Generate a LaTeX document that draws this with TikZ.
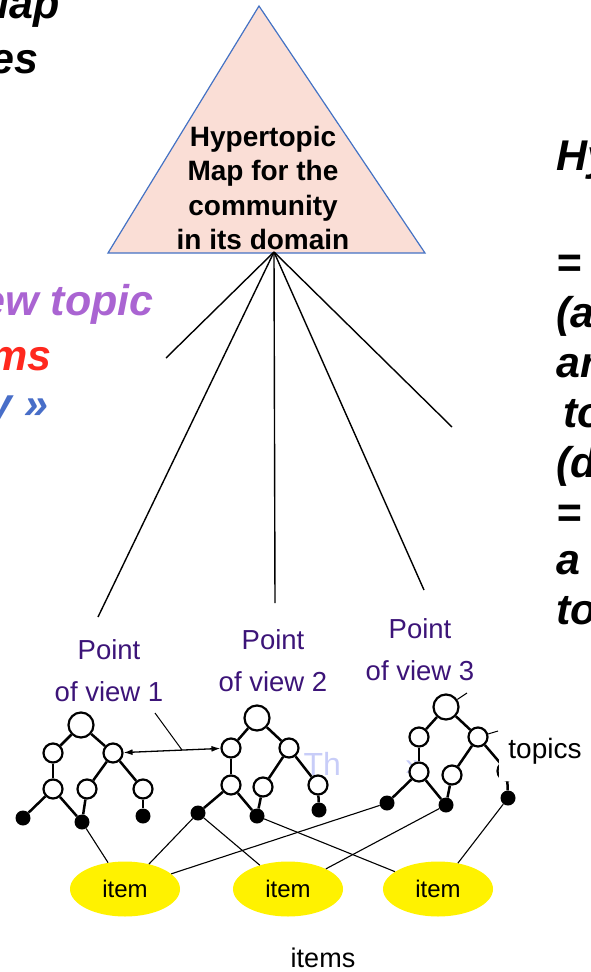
\documentclass[tikz,border=0pt]{standalone}
\usepackage{fontspec}
\setmainfont{Liberation Sans}
\usetikzlibrary{shapes.geometric,arrows.meta}
\definecolor{povcol}{RGB}{60,20,120}
\definecolor{tripink}{RGB}{250,222,214}
\definecolor{triblue}{RGB}{68,114,196}
\definecolor{lilac}{RGB}{170,100,210}
\definecolor{hotred}{RGB}{255,40,30}
\definecolor{slateblue}{RGB}{72,110,200}
\definecolor{ghost}{RGB}{200,205,248}

\begin{document}
\begin{tikzpicture}[x=1pt,y=-1pt,
  topic/.style={circle,draw,line width=2.2pt,fill=white,minimum size=19pt,inner sep=0pt},
  rootnode/.style={topic,minimum size=25pt},
  leafnode/.style={circle,fill=black,minimum size=15pt,inner sep=0pt},
  branch/.style={line width=2.5pt},
  link/.style={line width=1.1pt},
  ray/.style={line width=1.4pt},
  stub/.style={line width=1pt},
  itemnode/.style={ellipse,fill=yellow,minimum width=110pt,minimum height=55pt,inner sep=0pt,font=\fontsize{24}{28}\selectfont},
  pov/.style={align=center,text=povcol,font=\fontsize{27.5}{42}\selectfont},
  big/.style={font=\fontsize{43}{50}\selectfont\bfseries\itshape},
  faint/.style={text=ghost,font=\fontsize{32}{38}\selectfont},
]
\useasboundingbox (0,0) rectangle (591,972);

% slide headings, partly outside the frame
\node[big,anchor=base east] (h1) at (63,18) {Map};
\node[big,anchor=base east] (h2) at (42,73) {es};
\node[big,anchor=base east,text=lilac] (l1) at (157,315) {ew topic};
\node[big,anchor=base east,text=hotred] (l2) at (55,370) {ms};
\node[big,anchor=base east,text=slateblue] (l3) at (52,418) {y »};

\node[big,anchor=base west] (r1) at (553,170) {Hy};
\node[big,anchor=base west] (r2) at (553,277) {=};
\node[big,anchor=base west] (r3) at (553,327) {(a};
\node[big,anchor=base west] (r4) at (553,377) {ar};
\node[big,anchor=base west] (r5) at (560,427) {to};
\node[big,anchor=base west] (r6) at (553,477) {(d};
\node[big,anchor=base west] (r7) at (553,527) {=};
\node[big,anchor=base west] (r8) at (553,574) {a};
\node[big,anchor=base west] (r9) at (553,624) {to};

% the community map
\filldraw[fill=tripink,draw=triblue,line width=1.2pt] (259,6) -- (425,253) -- (108,253) -- cycle;
\node[align=center,font=\fontsize{28}{34.5}\selectfont\bfseries] (map) at (263,188)
  {Hypertopic\\Map for the\\community\\in its domain};

% rays from the map
\coordinate (hub) at (274,252);
\coordinate (e1) at (166,358);
\coordinate (e2) at (98,617);
\coordinate (e3) at (275,603);
\coordinate (e4) at (424,590);
\coordinate (e5) at (452,427);
\foreach \e in {e1,e2,e3,e4,e5} \draw[ray] (hub) -- (\e);

% points of view
\node[pov] (pv1) at (109,671) {Point\\of view 1};
\node[pov] (pv2) at (273,661) {Point\\of view 2};
\node[pov] (pv3) at (420,650) {Point\\of view 3};

% faint background letters
\node[faint,anchor=base west] (g1) at (300,775) {Th};
\node[faint,anchor=base] (g2) at (414,775) {»};

% tree 1
\node[rootnode] (a0) at (81,725) {};
\node[topic] (a1) at (53,753) {};
\node[topic] (a2) at (113,753) {};
\node[topic] (a3) at (53,789) {};
\node[topic] (a4) at (87,789) {};
\node[topic] (a5) at (143,789) {};
\node[leafnode] (a6) at (23,818) {};
\node[leafnode] (a7) at (82,822) {};
\node[leafnode] (a8) at (143,816) {};
% tree 2
\node[rootnode] (b0) at (257,718) {};
\node[topic] (b1) at (231,748) {};
\node[topic] (b2) at (289,748) {};
\node[topic] (b3) at (231,785) {};
\node[topic] (b4) at (263,787) {};
\node[topic] (b5) at (318,785) {};
\node[leafnode] (b6) at (198,813) {};
\node[leafnode] (b7) at (257,816) {};
\node[leafnode] (b8) at (319,810) {};
% tree 3
\node[rootnode] (c0) at (446,707) {};
\node[topic] (c1) at (419,737) {};
\node[topic] (c2) at (478,737) {};
\node[topic] (c3) at (419,772) {};
\node[topic] (c4) at (452,775) {};
\node[topic] (c5) at (507,771) {};
\node[leafnode] (c6) at (387,803) {};
\node[leafnode] (c7) at (446,805) {};
\node[leafnode] (c8) at (508,798) {};

\foreach \t in {a,b,c} {
  \draw[branch] (\t0) -- (\t1);
  \draw[branch] (\t0) -- (\t2);
  \draw[branch] (\t1) -- (\t3);
  \draw[branch] (\t2) -- (\t4);
  \draw[branch] (\t2) -- (\t5);
  \draw[branch] (\t3) -- (\t6);
  \draw[branch] (\t3) -- (\t7);
  \draw[branch] (\t4) -- (\t7);
  \draw[branch] (\t5) -- (\t8);
}

% short strokes leaving tree 3
\coordinate (s1) at (467,693);
\coordinate (s2) at (498,731);
\draw[stub] (c0) -- (s1);
\draw[stub] (c2) -- (s2);

% link between the two points of view
\draw[line width=1.3pt,{Latex[length=9pt,width=6pt]}-{Latex[length=9pt,width=6pt]}] (a2) -- (b1);
\coordinate (jt) at (155,713);
\coordinate (j) at (182,750);
\draw[stub] (jt) -- (j);

% topics label
\node[fill=white,minimum width=92pt,minimum height=59pt,inner sep=0pt,
      font=\fontsize{28}{30}\selectfont] (topics) at (545,751) {topics};

% items
\node[itemnode] (i1) at (125,889) {item};
\node[itemnode] (i2) at (288,889) {item};
\node[itemnode] (i3) at (438,889) {item};
\draw[link] (a7) -- (i1);
\draw[link] (b6) -- (i1);
\draw[link] (c6) -- (i1);
\draw[link] (b6) -- (i2);
\draw[link] (c7) -- (i2);
\draw[link] (b7) -- (i3);
\draw[link] (c8) -- (i3);
\node[font=\fontsize{27}{30}\selectfont] (items) at (323,958) {items};
\end{tikzpicture}
\end{document}
